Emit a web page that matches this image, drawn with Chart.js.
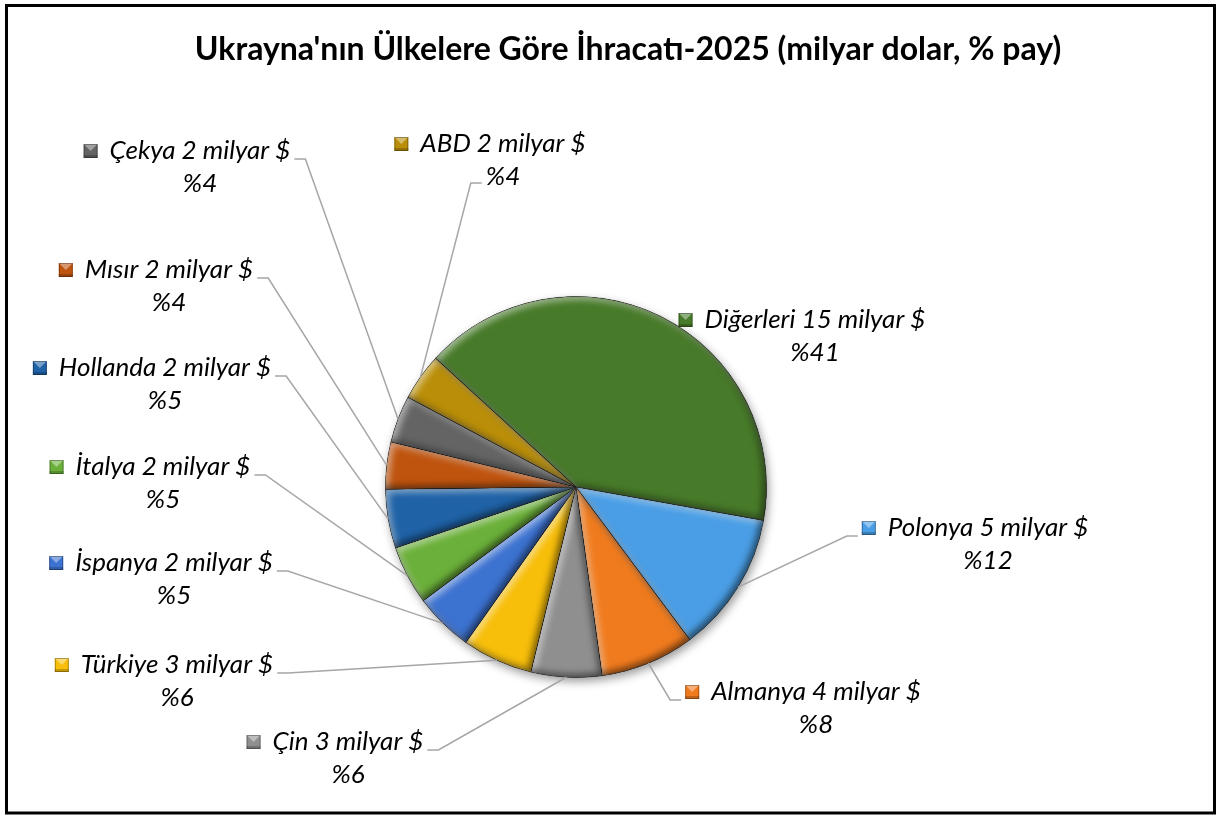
<!DOCTYPE html>
<html>
<head>
<meta charset="utf-8">
<script src="https://cdn.jsdelivr.net/npm/chart.js@4.4.0/dist/chart.umd.min.js"></script>
<style>
html, body { margin: 0; padding: 0; background: #fff; }
</style>
</head>
<body>
<canvas id="export-chart" width="1219" height="817"></canvas>
<script>
const countries = ['Diğerleri', 'Polonya', 'Almanya', 'Çin', 'Türkiye', 'İspanya', 'İtalya', 'Hollanda', 'Mısır', 'Çekya', 'ABD'];
const billions = [15, 5, 4, 3, 3, 2, 2, 2, 2, 2, 2];
const shares = [41, 12, 8, 6, 6, 5, 5, 5, 4, 4, 4];
const titleText = "Ukrayna'nın Ülkelere Göre İhracatı-2025 (milyar dolar, % pay)";

const sliceColors = ['#477A29', '#4A9EE5', '#F07B1E', '#8F8F8F', '#F7BE0A', '#3C72D0', '#6BB03A', '#1F62A6', '#BF540F', '#646464', '#BA8E08'];

// centre of the first label line, and which side the leader line leaves from
const labelSpots = [
    [815, 320, 'none'],
    [988, 528, 'left'],
    [816, 692, 'left'],
    [348, 742, 'right'],
    [177, 665, 'right'],
    [174, 563, 'right'],
    [163, 467, 'right'],
    [165, 368, 'right'],
    [169, 270, 'right'],
    [200, 151, 'right'],
    [503, 144, 'left2']
];

const labelFont = 'italic 26px Lato';
const lineGap = 33;

function slicePath(ctx, a) {
    ctx.beginPath();
    ctx.moveTo(a.x, a.y);
    ctx.arc(a.x, a.y, a.outerRadius, a.startAngle, a.endAngle);
    ctx.closePath();
}

// inner shadow trick for the bevelled look
function innerShade(ctx, a, color, dx, dy, blur) {
    ctx.save();
    slicePath(ctx, a);
    ctx.clip();
    ctx.beginPath();
    ctx.rect(a.x - 2000, a.y - 2000, 4000, 4000);
    ctx.moveTo(a.x, a.y);
    ctx.arc(a.x, a.y, a.outerRadius, a.startAngle, a.endAngle);
    ctx.closePath();
    ctx.shadowColor = color;
    ctx.shadowBlur = blur;
    ctx.shadowOffsetX = dx;
    ctx.shadowOffsetY = dy;
    ctx.fillStyle = '#000';
    ctx.fill('evenodd');
    ctx.restore();
}

function drawKey(ctx, x, y, s, color) {
    ctx.save();
    ctx.fillStyle = color;
    ctx.fillRect(x, y, s, s);
    ctx.beginPath();
    ctx.moveTo(x, y);
    ctx.lineTo(x + s, y);
    ctx.lineTo(x + s / 2, y + s / 2);
    ctx.closePath();
    ctx.fillStyle = 'rgba(255,255,255,0.4)';
    ctx.fill();
    ctx.fillStyle = 'rgba(0,0,0,0.2)';
    ctx.fillRect(x, y + s - 3, s, 3);
    ctx.strokeStyle = 'rgba(0,0,0,0.3)';
    ctx.lineWidth = 1;
    ctx.strokeRect(x + 0.5, y + 0.5, s - 1, s - 1);
    ctx.restore();
}

const excelLook = {
    id: 'excelLook',
    beforeDraw(chart) {
        const ctx = chart.ctx;
        ctx.save();
        ctx.fillStyle = '#fff';
        ctx.fillRect(0, 0, chart.width, chart.height);
        ctx.strokeStyle = '#000';
        ctx.lineWidth = 3;
        ctx.strokeRect(6.5, 5.5, 1208, 807.5);
        ctx.fillStyle = '#000';
        ctx.font = 'bold 32px Lato';
        ctx.textAlign = 'center';
        ctx.textBaseline = 'middle';
        ctx.fillText(titleText, 628, 50);
        ctx.restore();
    },
    beforeDatasetsDraw(chart) {
        const a = chart.getDatasetMeta(0).data[0];
        if (!a) return;
        const ctx = chart.ctx;
        ctx.save();
        ctx.beginPath();
        ctx.arc(a.x, a.y, a.outerRadius, 0, Math.PI * 2);
        ctx.shadowColor = 'rgba(0,0,0,0.4)';
        ctx.shadowBlur = 10;
        ctx.shadowOffsetX = 2;
        ctx.shadowOffsetY = 4;
        ctx.fillStyle = '#fff';
        ctx.fill();
        ctx.restore();
    },
    afterDatasetsDraw(chart) {
        const ctx = chart.ctx;
        const arcs = chart.getDatasetMeta(0).data;
        arcs.forEach(a => {
            innerShade(ctx, a, 'rgba(255,255,255,0.55)', 3, 3, 7);
            innerShade(ctx, a, 'rgba(0,0,0,0.55)', -3, -3, 7);
        });

        ctx.save();
        ctx.font = labelFont;
        ctx.textAlign = 'center';
        ctx.textBaseline = 'middle';
        arcs.forEach((a, i) => {
            const [cx, cy, side] = labelSpots[i];
            const line1 = countries[i] + ' ' + billions[i] + ' milyar $';
            const line2 = '%' + shares[i];
            const w1 = ctx.measureText(line1).width;
            const w2 = ctx.measureText(line2).width;
            const keyX = cx - w1 / 2 - 12 - 14;

            // leader line from the label to the middle of the slice rim
            if (side !== 'none') {
                const mid = (a.startAngle + a.endAngle) / 2;
                const px = a.x + a.outerRadius * Math.cos(mid);
                const py = a.y + a.outerRadius * Math.sin(mid);
                let sx, sy, dir;
                if (side === 'right') { sx = cx + w1 / 2 + 4; sy = cy + 8; dir = 1; }
                else if (side === 'left') { sx = keyX - 4; sy = cy + 8; dir = -1; }
                else { sx = cx - w2 / 2 - 4; sy = cy + lineGap + 6; dir = -1; }
                ctx.beginPath();
                ctx.moveTo(sx, sy);
                ctx.lineTo(sx + dir * 11, sy);
                ctx.lineTo(px, py);
                ctx.strokeStyle = '#A6A6A6';
                ctx.lineWidth = 1.5;
                ctx.stroke();
            }

            drawKey(ctx, keyX, cy - 7, 14, sliceColors[i]);
            ctx.fillStyle = '#000';
            ctx.fillText(line1, cx, cy);
            ctx.fillText(line2, cx, cy + lineGap);
        });
        ctx.restore();
    }
};

new Chart(document.getElementById('export-chart'), {
    type: 'pie',
    data: {
        labels: countries,
        datasets: [{
            data: shares,
            backgroundColor: sliceColors,
            borderColor: 'rgba(0,0,0,0.3)',
            borderWidth: 1
        }]
    },
    options: {
        responsive: false,
        animation: false,
        rotation: -47.5,
        layout: {
            padding: { left: 385, right: 452, top: 296, bottom: 139 }
        },
        plugins: {
            legend: { display: false },
            tooltip: { enabled: false },
            title: { display: false }
        }
    },
    plugins: [excelLook]
});
</script>
</body>
</html>
